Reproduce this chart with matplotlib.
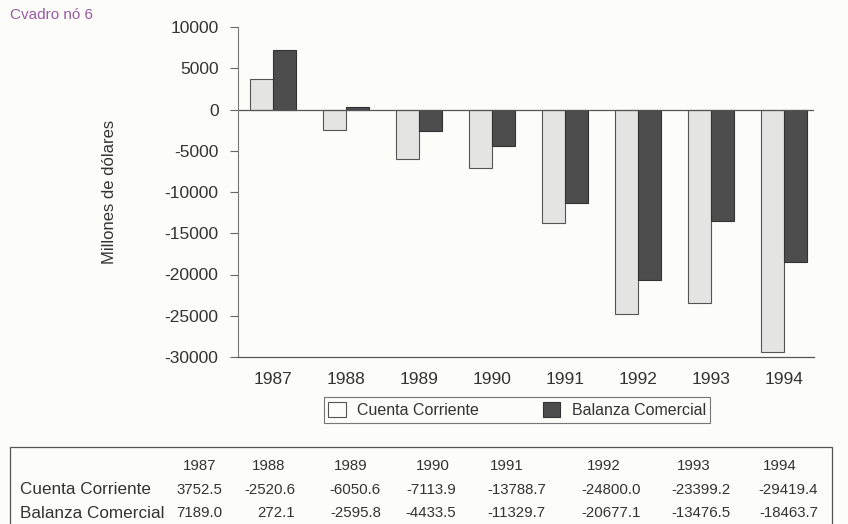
import matplotlib
matplotlib.use("Agg")
import matplotlib.pyplot as plt
from matplotlib.patches import Rectangle, Patch
import numpy as np

years = ["1987", "1988", "1989", "1990", "1991", "1992", "1993", "1994"]
cuenta_corriente = [3752.5, -2520.6, -6050.6, -7113.9, -13788.7, -24800.0, -23399.2, -29419.4]
balanza_comercial = [7189.0, 272.1, -2595.8, -4433.5, -11329.7, -20677.1, -13476.5, -18463.7]
cc_labels = ["3752.5", "-2520.6", "-6050.6", "-7113.9", "-13788.7", "-24800.0", "-23399.2", "-29419.4"]
bc_labels = ["7189.0", "272.1", "-2595.8", "-4433.5", "-11329.7", "-20677.1", "-13476.5", "-18463.7"]
yticks = [10000, 5000, 0, -5000, -10000, -15000, -20000, -25000, -30000]

plt.rcParams['font.family'] = ['Liberation Sans', 'DejaVu Sans']
bg = '#fcfcf9'
fig = plt.figure(figsize=(8.48, 5.24), dpi=100, facecolor=bg)
ax = fig.add_axes([238/848, 1-357/524, (814-238)/848, (357-27)/524], facecolor=bg)

x = np.arange(len(years))
w = 0.32
light = '#e4e4e2'
dark = '#4d4d4d'
ax.bar(x - w/2, cuenta_corriente, w, color=light, edgecolor='#555555', linewidth=0.8)
ax.bar(x + w/2, balanza_comercial, w, color=dark, edgecolor='#333333', linewidth=0.8)
ax.axhline(0, color='#555555', linewidth=0.9)

ax.set_xlim(-0.48, 7.41)
ax.set_ylim(-30000, 10000)
ax.set_yticks(yticks)
ax.set_yticklabels([str(t) for t in yticks], fontsize=12.5, color='#333333')
ax.set_xticks(x)
ax.set_xticklabels(years, fontsize=12.5, color='#333333')
ax.tick_params(axis='x', length=0, pad=11)
ax.tick_params(axis='y', length=6, width=0.8, color='#666666', pad=8)
for s in ['top', 'right']:
    ax.spines[s].set_visible(False)
ax.spines['left'].set_color('#777777')
ax.spines['bottom'].set_color('#555555')
ax.spines['left'].set_linewidth(0.8)
ax.spines['bottom'].set_linewidth(0.9)
ax.set_ylabel("Millones de dólares", fontsize=12, color='#333333', labelpad=34)

handles = [Patch(facecolor=bg, edgecolor='#555555', linewidth=0.8),
           Patch(facecolor=dark, edgecolor='#333333', linewidth=0.8)]
leg = fig.legend(handles, ["Cuenta Corriente", "Balanza Comercial"], loc='center',
                 bbox_to_anchor=(517/848, 1-410/524), ncol=2, fontsize=11.5,
                 frameon=True, fancybox=False, edgecolor='#555555', facecolor=bg,
                 columnspacing=4.0, handlelength=1.1, handleheight=1.1,
                 borderpad=0.3, handletextpad=0.7)
leg.get_frame().set_linewidth(0.8)
for t in leg.get_texts():
    t.set_color('#333333')

fig.text(10/848, 1-15/524, "Cvadro nó 6", fontsize=11, color='#9a5aa8', va='center', ha='left')

# table
fig.patches.append(Rectangle((10/848, -0.05), (832-10)/848, (0.05 + 1-447/524),
                             transform=fig.transFigure, fill=False,
                             edgecolor='#555555', linewidth=0.9))
head_cx = [200, 269, 351, 433, 507, 604, 694, 780]
val_rx = [222, 295, 381, 456, 546, 641, 731, 818]
ty_head = 1-466/524
ty_r1 = 1-490/524
ty_r2 = 1-513/524
tc = '#333333'
fs = 10.8
for i, yr in enumerate(years):
    fig.text(head_cx[i]/848, ty_head, yr, ha='center', va='center', fontsize=fs, color=tc)
    fig.text(val_rx[i]/848, ty_r1, cc_labels[i], ha='right', va='center', fontsize=fs, color=tc)
    fig.text(val_rx[i]/848, ty_r2, bc_labels[i], ha='right', va='center', fontsize=fs, color=tc)
fig.text(20/848, ty_r1, "Cuenta Corriente", ha='left', va='center', fontsize=12.3, color=tc)
fig.text(20/848, ty_r2, "Balanza Comercial", ha='left', va='center', fontsize=12.3, color=tc)

fig.savefig("out.png", dpi=100, facecolor=bg)
